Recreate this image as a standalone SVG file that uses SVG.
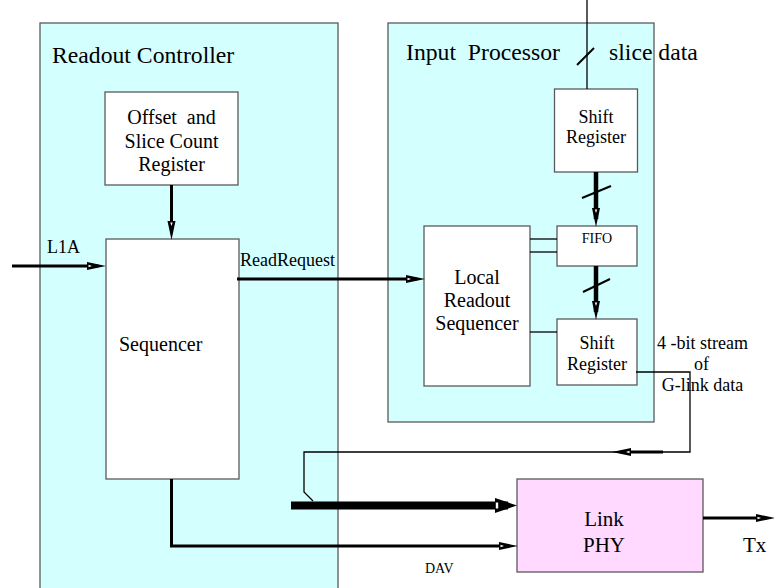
<svg xmlns="http://www.w3.org/2000/svg" width="774" height="588" viewBox="0 0 774 588">
  <style>
    text { fill: #000; }
    .mid { text-anchor: middle; }
    .region { fill: #d4ffff; stroke: #5a5a5a; stroke-width: 1.3; }
    .block { fill: #ffffff; stroke: #5a5a5a; stroke-width: 1.3; }
    .phy { fill: #ffd9ff; stroke: #5a5a5a; stroke-width: 1.3; }
    .thin { fill: none; stroke: #000; stroke-width: 1.3; }
    .sig { fill: none; stroke: #000; stroke-width: 3; }
    .bus { fill: none; stroke: #000; stroke-width: 4.5; }
    .slash { fill: none; stroke: #000; stroke-width: 2; }
  </style>
  <defs>
    <marker id="head" markerUnits="userSpaceOnUse" markerWidth="19" markerHeight="9" viewBox="0 0 19 9" refX="11" refY="4.5" orient="auto">
      <path d="M0,0.5 L19,4.5 L0,8.5 Z" fill="#000"/>
      <path d="M1.5,3.3 L5,4.5 L1.5,5.7 Z" fill="#fff"/>
    </marker>
    <marker id="headBus" markerUnits="userSpaceOnUse" markerWidth="22" markerHeight="15" viewBox="0 0 22 15" refX="13" refY="7.5" orient="auto">
      <path d="M0,0 L22,7.5 L0,15 Z" fill="#000"/>
      <rect x="0.8" y="4.5" width="2.4" height="6" fill="#fff"/>
    </marker>
  </defs>

  <g font-family="'Liberation Serif', 'DejaVu Serif', serif">
  <!-- Readout Controller -->
  <g id="readout-controller">
    <rect class="region" x="40" y="23" width="298" height="580"/>
    <text x="52" y="63" font-size="23.7">Readout Controller</text>
  </g>

  <!-- Input Processor -->
  <g id="input-processor">
    <rect class="region" x="388" y="23" width="266" height="399"/>
    <text x="406" y="60" font-size="23.7" xml:space="preserve">Input  Processor</text>
  </g>

  <g id="offset-register">
    <rect class="block" x="105" y="92" width="133" height="93"/>
    <text class="mid" x="171.5" y="124" font-size="20" xml:space="preserve">Offset  and</text>
    <text class="mid" x="171.5" y="148" font-size="20">Slice Count</text>
    <text class="mid" x="171.5" y="171" font-size="20">Register</text>
  </g>

  <g id="sequencer">
    <rect class="block" x="106" y="239" width="133" height="240"/>
    <text x="119" y="351" font-size="20">Sequencer</text>
  </g>

  <g id="shift-register-in">
    <rect class="block" x="554.5" y="89" width="83" height="83"/>
    <text class="mid" x="596" y="123" font-size="18">Shift</text>
    <text class="mid" x="596" y="143" font-size="18">Register</text>
  </g>

  <g id="fifo">
    <rect class="block" x="557" y="226" width="80" height="40"/>
    <text class="mid" x="597" y="243" font-size="14">FIFO</text>
  </g>

  <g id="shift-register-out">
    <rect class="block" x="557" y="319" width="80" height="66"/>
    <text class="mid" x="597" y="349" font-size="18">Shift</text>
    <text class="mid" x="597" y="370" font-size="18">Register</text>
  </g>

  <g id="local-readout-sequencer">
    <rect class="block" x="424" y="226" width="106" height="160"/>
    <text class="mid" x="477" y="284" font-size="20">Local</text>
    <text class="mid" x="477" y="307" font-size="20">Readout</text>
    <text class="mid" x="477" y="330" font-size="20">Sequencer</text>
  </g>

  <g id="link-phy">
    <rect class="phy" x="517" y="479" width="186" height="93"/>
    <text class="mid" x="604" y="526" font-size="21">Link</text>
    <text class="mid" x="604" y="552" font-size="21">PHY</text>
  </g>

  <!-- Connectors -->
  <g id="connectors">
    <!-- slice data input bus -->
    <line class="thin" x1="587" y1="0" x2="587" y2="89"/>
    <line class="slash" x1="577" y1="65" x2="594" y2="48"/>
    <text x="609" y="60" font-size="23.7">slice data</text>

    <!-- shift register to FIFO to shift register -->
    <line class="bus" x1="596" y1="172" x2="596" y2="219" marker-end="url(#head)"/>
    <line class="slash" x1="582" y1="198" x2="611" y2="186"/>
    <line class="bus" x1="596" y1="266" x2="596" y2="312" marker-end="url(#head)"/>
    <line class="slash" x1="583" y1="292" x2="610" y2="279"/>

    <!-- offset register to sequencer -->
    <line class="sig" x1="171.5" y1="185" x2="171.5" y2="232" marker-end="url(#head)"/>

    <!-- L1A -->
    <line class="sig" x1="12" y1="266" x2="98" y2="266" marker-end="url(#head)"/>
    <text x="47" y="253" font-size="18">L1A</text>

    <!-- ReadRequest -->
    <line class="sig" x1="237" y1="279" x2="417" y2="279" marker-end="url(#head)"/>
    <text x="240" y="266" font-size="18">ReadRequest</text>

    <!-- local sequencer control lines -->
    <line class="thin" x1="530" y1="239" x2="557" y2="239"/>
    <line class="thin" x1="530" y1="252" x2="557" y2="252"/>
    <line class="thin" x1="530" y1="332" x2="557" y2="332"/>

    <!-- serial stream back to the link -->
    <path class="thin" d="M636,372 H690 V452 H304 V492 L313,501"/>
    <line class="sig" x1="663" y1="452" x2="620" y2="452" marker-end="url(#head)"/>
    <text class="mid" x="702.5" y="349" font-size="18" xml:space="preserve">4 -bit stream</text>
    <text class="mid" x="701.5" y="370" font-size="18">of</text>
    <text class="mid" x="702.5" y="391" font-size="18">G-link data</text>

    <!-- wide data bus into Link PHY -->
    <line x1="291" y1="505.5" x2="508" y2="505.5" stroke="#000" stroke-width="8" marker-end="url(#headBus)"/>

    <!-- DAV -->
    <path class="sig" d="M171.5,479 V546 H510" marker-end="url(#head)"/>
    <text x="425" y="573" font-size="14">DAV</text>

    <!-- Tx -->
    <line class="sig" x1="703" y1="518" x2="767" y2="518" marker-end="url(#head)"/>
    <text x="743" y="552" font-size="21">Tx</text>
  </g>
  </g>
</svg>
